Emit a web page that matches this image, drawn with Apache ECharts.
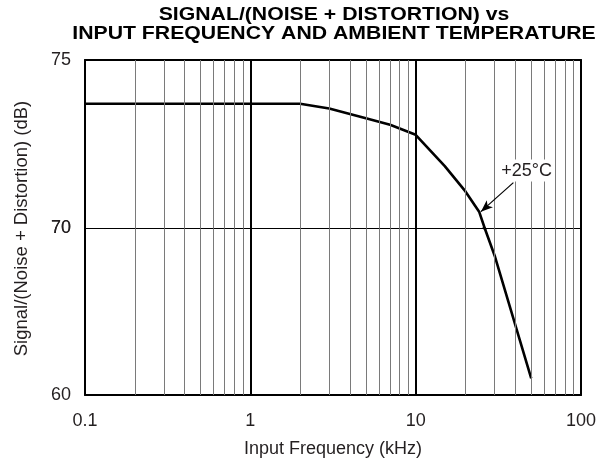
<!DOCTYPE html>
<html><head><meta charset="utf-8">
<script src="https://cdn.jsdelivr.net/npm/echarts@6/dist/echarts.min.js"></script>
<style>html,body{margin:0;padding:0;background:#fff}#c{width:612px;height:466px}</style>
</head><body><div id="c"></div>
<script>
// ---- data ----
const freqKHz = [0.1, 1, 2, 3, 4, 5, 7, 10, 15, 20, 24.2, 26.2, 30.2, 50];
const snrDB   = [73.7, 73.7, 73.7, 73.56, 73.4, 73.27, 73.08, 72.78, 71.85, 71.1, 70.5, 70.0, 68.3, 61.0];
const xTickLabels = ['0.1', '1', '10', '100'];
const yTickLabels = ['60', '70', '75'];
const curveLabel = '+25°C';
const labelAt = [46.9, 71.72];
const arrowFrom = [39, 71.36];
const arrowTo = [24.8, 70.5];
const titleLines = ['SIGNAL/(NOISE + DISTORTION) vs', 'INPUT FREQUENCY AND AMBIENT TEMPERATURE'];
const xName = 'Input Frequency (kHz)';
const yName = 'Signal/(Noise + Distortion) (dB)';

// minor grid frequencies (2..9 in each decade)
const minorFreqs = [];
[0.1, 1, 10].forEach(d => { for (let k = 2; k <= 9; k++) minorFreqs.push(+(d * k).toPrecision(3)); });

const pts = freqKHz.map((f, i) => [f, snrDB[i]]);
const FONT = '"Liberation Sans", Arial, Helvetica, sans-serif';
const L = 85, W = 496, T = 60, MID = 228.5, B = 395;

const chart = echarts.init(document.getElementById('c'), null, { renderer: 'canvas' });
const xFmt = v => { const t = xTickLabels.find(s => Math.abs(parseFloat(s) - v) < 1e-9 * Math.max(1, v)); return t || ''; };
const yFmt = v => { const t = yTickLabels.find(s => parseFloat(s) === v); return t || ''; };

const baseX = (gi, pos, showLabel) => ({
  type: 'log', logBase: 10, gridIndex: gi, min: 0.1, max: 100, position: pos,
  axisLine: { show: true, onZero: false, lineStyle: { color: '#000', width: 2 } },
  axisTick: { show: false },
  axisLabel: { show: showLabel, formatter: xFmt, color: '#231f20', fontSize: 18, fontFamily: FONT, margin: 17 },
  splitLine: { show: true, lineStyle: { color: '#000', width: 2 } },
  minorTick: { show: false }, minorSplitLine: { show: false }
});
const baseY = (gi, min, max, interval, pos, showLabel, split) => ({
  type: 'value', gridIndex: gi, min, max, interval, position: pos,
  axisLine: { show: true, onZero: false, lineStyle: { color: '#000', width: 2 } },
  axisTick: { show: false },
  axisLabel: { show: showLabel, formatter: yFmt, color: '#231f20', fontSize: 18, fontFamily: FONT, margin: 14 },
  splitLine: { show: split, lineStyle: { color: '#000', width: 1 } }
});

const gridSeries = (xi, yi) => ({
  type: 'line', xAxisIndex: xi, yAxisIndex: yi, data: [], silent: true, z: 1,
  markLine: {
    silent: true, symbol: ['none', 'none'], animation: false,
    label: { show: false },
    lineStyle: { color: '#7a7a7a', width: 1, type: 'solid' },
    data: minorFreqs.map(v => ({ xAxis: v }))
  }
});
const curve = (xi, yi, extra) => Object.assign({
  type: 'line', xAxisIndex: xi, yAxisIndex: yi, data: pts, showSymbol: false, clip: true, z: 3,
  lineStyle: { color: '#000', width: 2.6 }, animation: false
}, extra || {});

chart.setOption({
  animation: false,
  backgroundColor: '#fff',
  grid: [
    { left: L, top: T, width: W, height: MID - T },
    { left: L, top: MID, width: W, height: B - MID }
  ],
  xAxis: [baseX(0, 'top', false), Object.assign(baseX(1, 'bottom', true), {
    name: xName, nameLocation: 'middle', nameGap: 45,
    nameTextStyle: { color: '#231f20', fontSize: 18, fontFamily: FONT }
  })],
  yAxis: [
    baseY(0, 70, 75, 5, 'left', true, false),
    baseY(0, 70, 75, 5, 'right', false, false),
    baseY(1, 60, 70, 10, 'left', true, true),
    baseY(1, 60, 70, 10, 'right', false, false)
  ],
  graphic: [
    {
      type: 'text', rotation: Math.PI / 2, x: 22, y: MID,
      style: { text: yName, fill: '#231f20', font: '18.5px ' + FONT, align: 'center', verticalAlign: 'middle' }
    },
    {
      type: 'text', x: 334, y: 15, scaleX: 1.18,
      style: { text: titleLines[0], fill: '#000', font: 'bold 18px ' + FONT, align: 'center', verticalAlign: 'middle' }
    },
    {
      type: 'text', x: 334, y: 34, scaleX: 1.18,
      style: { text: titleLines[1], fill: '#000', font: 'bold 18px ' + FONT, align: 'center', verticalAlign: 'middle' }
    }
  ],
  series: [
    gridSeries(0, 0), gridSeries(1, 2),
    curve(0, 0, {
      markLine: {
        silent: true, symbol: ['none', 'arrow'], symbolSize: [7, 12], animation: false,
        label: { show: false }, lineStyle: { color: '#000', width: 1.2, type: 'solid' },
        data: [[{ coord: arrowFrom }, { coord: arrowTo }]]
      },
      markPoint: {
        silent: true, animation: false,
        symbol: 'rect', symbolSize: [56, 22], itemStyle: { color: '#fff' },
        label: { show: true, position: 'inside', formatter: curveLabel, color: '#231f20', fontSize: 18, fontFamily: FONT },
        data: [{ coord: labelAt }]
      }
    }),
    curve(1, 2)
  ]
});
</script></body></html>
